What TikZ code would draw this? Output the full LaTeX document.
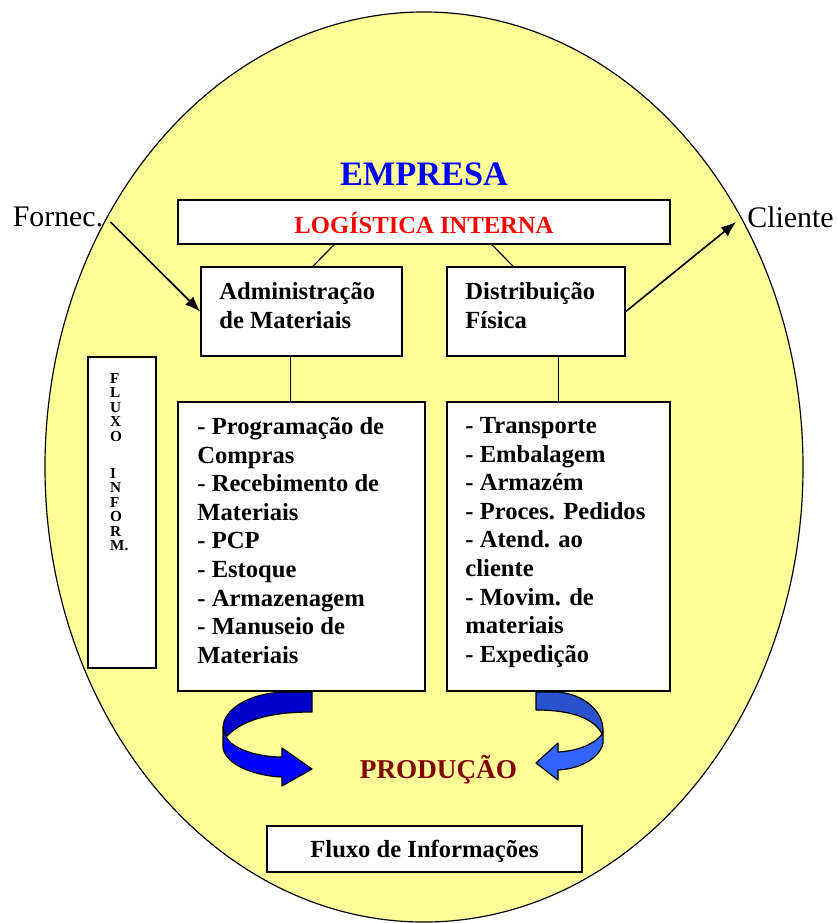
\documentclass[tikz,border=0pt]{standalone}
\usepackage{fontspec}
\setmainfont{Liberation Serif}
\usepackage{xcolor}
\usetikzlibrary{
	positioning,    % posizionamento relativo dei nodi
	arrows.meta,    % punte di freccia (Latex)
	calc            % coordinate calcolate sui bordi dei nodi
}
\definecolor{amarelo}{RGB}{255,255,153}
\definecolor{vinho}{RGB}{128,0,0}
\definecolor{azulesc}{RGB}{0,0,204}
\definecolor{azulvivo}{RGB}{0,0,255}
\definecolor{azulmedio}{RGB}{41,82,204}
\definecolor{azulclaro}{RGB}{51,102,255}

\begin{document}
\begin{tikzpicture}[x=0.03cm, y=-0.03cm, >={Latex[length=13pt,width=10pt]},
		caixa/.style={draw, line width=1.4pt, fill=white, inner sep=0pt},
		negrito/.style={font=\fontsize{21}{24.4}\selectfont\bfseries},
		texto/.style={negrito, align=left, anchor=north west, inner sep=0pt},
		letra/.style={font=\fontsize{13}{13}\selectfont\bfseries, anchor=base west, inner sep=0pt,
			text height=0.66em, text depth=0pt},
		rotulo/.style={font=\fontsize{25.5}{30}\selectfont, inner sep=0pt},
		ligacao/.style={line width=1pt},
		seta/.style={->, line width=1.4pt},
		fita/.style={draw, line width=1pt, line join=round}]
		% Parametri dell'ellisse (in pixel)
		\def\cx{424}
		\def\cy{467}
		
		\useasboundingbox (0,0) rectangle (837,923);
		
		% --- Ellisse di fondo ---
		\draw[fill=amarelo, line width=1pt] (\cx,\cy) ellipse [x radius=11.37cm, y radius=13.65cm];
		
		% --- Titolo ---
		\node[anchor=base, font=\fontsize{29.3}{34}\selectfont\bfseries, text=azulvivo] (empresa) at (\cx,185) {EMPRESA};
		
		% --- Caselle ---
		\node[caixa, minimum width=14.76cm, minimum height=1.32cm] (logi) at (424,222) {};
		\node[negrito, anchor=base, text=red, inner sep=0pt] (logitxt) at (logi.center |- 0,233) {LOGÍSTICA INTERNA};
		
		\node[caixa, minimum width=6.03cm, minimum height=2.67cm] (adm) at (301.5,311.5) {};
		\node[texto] (admtxt) at ($(adm.north west)+(19,16)$) {Administração\\de Materiais};
		\node[caixa, minimum width=5.34cm, minimum height=2.67cm] (dist) at (536,311.5) {};
		\node[texto] (disttxt) at ($(dist.north west)+(19,16)$) {Distribuição\\Física};
		
		% Liste delle attività
		\node[caixa, minimum width=7.41cm, minimum height=8.67cm] (lista) at (301.5,546.5) {};
		\node[texto] (listatxt) at ($(lista.north west)+(20,16)$)
		{- Programação de\\Compras\\- Recebimento de\\Materiais\\- PCP\\- Estoque\\- Armazenagem\\- Manuseio de\\Materiais};
		\node[caixa, minimum width=6.69cm, minimum height=8.67cm] (listd) at (558.5,546.5) {};
		\node[texto] (listdtxt) at ($(listd.north west)+(19,16)$)
		{- Transporte\\- Embalagem\\- Armazém\\- Proces. Pedidos\\- Atend. ao\\cliente\\- Movim. de\\materiais\\- Expedição};
		
		% Colonna verticale (una lettera per riga)
		\node[caixa, minimum width=2.04cm, minimum height=9.33cm] (fluxv) at (122,512.5) {};
		\foreach \l [count=\i] in {F,L,U,X,O}
			\node[letra] (fa\i) at (110,{383+(\i-1)*14.5}) {\l};
		\foreach \l [count=\i] in {I,N,F,O,R,M.}
			\node[letra] (fb\i) at (110,{478+(\i-1)*14.5}) {\l};
		
		\node[caixa, negrito, text depth=0pt, minimum width=9.45cm, minimum height=1.38cm] (fluxo) at (424.5,849) {Fluxo de Informações};
		
		% --- Etichette esterne ---
		\node[rotulo] (forn) at (58,217) {Fornec.};
		\node[rotulo] (cli) at (790.5,217) {Cliente};
		
		% --- Collegamenti ---
		\draw[ligacao] ($(logi.south)+(-90,0)$) -- ($(adm.north)+(11.5,0)$);
		\draw[ligacao] ($(logi.south)+(68,0)$) -- ($(dist.north)+(-23,0)$);
		\draw[ligacao] ($(adm.south)+(-11,0)$) -- ($(lista.north)+(-11,0)$);
		\draw[ligacao] (listd.north) -- (listd.north |- dist.south);
		
		\draw[seta] ($(forn.east)+(7,5)$) -- (adm.west);
		\draw[seta] (dist.east) -- ($(cli.west)+(-11,5)$);
		
		% --- Frecce curve verso la produzione ---
		% sinistra: parte dietro e parte davanti
		\draw[fita, fill=azulesc] (312,692) -- (285,692) .. controls (248,693) and (223,710) .. (223,728)
		-- (226,737) .. controls (240,722) and (265,712) .. (312,712) -- cycle;
		\draw[fita, fill=azulvivo] (223,728) -- (223,748) .. controls (226,765) and (255,776) .. (282,777)
		-- (282,786) -- (312,769) -- (282,748) -- (282,757) .. controls (255,757) and (232,748) .. (226,737) -- cycle;
		% destra
		\draw[fita, fill=azulmedio] (536,692) -- (557,692) .. controls (585,694) and (603,712) .. (603,730)
		-- (602,734) .. controls (595,720) and (575,710) .. (536,710) -- cycle;
		\draw[fita, fill=azulclaro] (603,730) -- (603,743) .. controls (600,758) and (580,769) .. (558,770)
		-- (558,780) -- (536,763) -- (558,743) -- (558,752) .. controls (580,751) and (597,742) .. (602,734) -- cycle;
		
		\node[anchor=base, font=\fontsize{23.2}{28}\selectfont\bfseries, text=vinho] (prod) at (438.5,778) {PRODUÇÃO};
	\end{tikzpicture}
\end{document}
